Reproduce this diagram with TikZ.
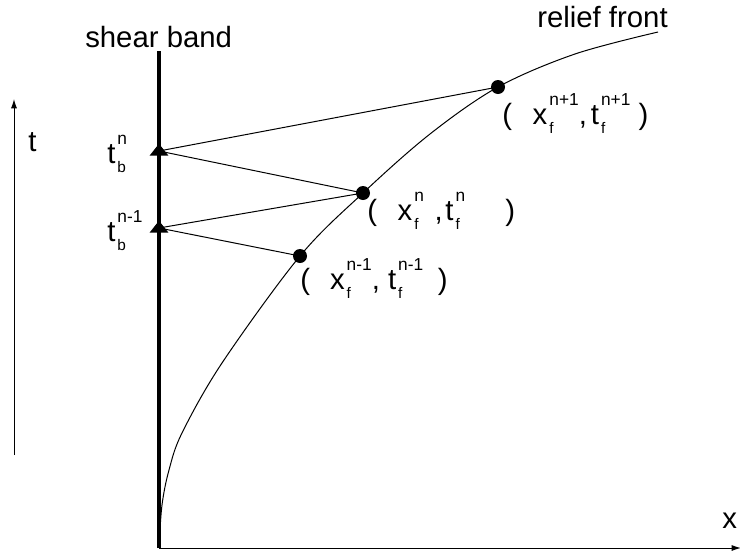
\documentclass[tikz,border=0pt]{standalone}
\usepackage{fontspec}
\setmainfont{Liberation Sans}
\usetikzlibrary{arrows.meta,shapes.geometric}
\newcommand\supfont{\fontsize{13}{13}\selectfont}
\newcommand\subfont{\fontsize{11.5}{11.5}\selectfont}
% letter with sub- and superscript stacked
\newcommand\xs[3]{#1\hspace{1.5pt}\makebox[0pt][l]{\raisebox{-7pt}{\subfont #2}}\raisebox{14pt}{\supfont #3}}
\tikzset{
  band/.style={line width=3pt},
  ray/.style={line width=0.75pt},
  front/.style={line width=0.75pt},
  axis/.style={line width=0.75pt, -{Latex[length=7pt,width=4.5pt]}},
  event/.style={
    shape = circle,
    fill,
    inner sep = 0pt,
    minimum size = 10.5pt
  },
  arrival/.style={
    shape = isosceles triangle,
    isosceles triangle apex angle = 77,
    shape border rotate = 90,
    fill,
    inner sep = 0pt,
    minimum width = 14pt
  },
  lbl/.style={
    anchor = base west,
    inner sep = 0pt,
    font = \fontsize{22}{26}\selectfont
  }
}
\begin{document}
\begin{tikzpicture}[x=0.75pt, y=-0.75pt]
\useasboundingbox (0,0) rectangle (740,554);

       % axes
       \coordinate (tlow) at (14,455);
       \coordinate (thigh) at (14,99);
       \coordinate (orig) at (159,548);
       \coordinate (xend) at (741,548);
       \coordinate (bandtop) at (159,51);
       \draw[axis] (tlow) -- (thigh);
       \draw[axis] (orig) -- (xend);
       \draw[band] (orig) -- (bandtop);

       \node[lbl] (tlab) at (28,151) {t};
       \node[lbl] (xlab) at (722,528) {x};
       \node[lbl] (bandlab) at (85,47) {shear band};
       \node[lbl] (frontlab) at (537,27) {relief front};

       % relief front
       \draw[front] plot[smooth, tension=0.55] coordinates {(159,547) (162,505) (169,470)
         (182,433) (222,363) (300,256) (363,193) (430,134) (498,87) (575,54) (658,32)};

       \node[event] (dl) at (300,256) {};
       \node[event] (dm) at (363,193) {};
       \node[event] (dt) at (498,87) {};

       \node[arrival] (tb1) at (159,151) {};
       \node[arrival] (tb2) at (159,228) {};

       \draw[ray] (tb1.center) -- (dt.center);
       \draw[ray] (tb1.center) -- (dm.center);
       \draw[ray] (tb2.center) -- (dm.center);
       \draw[ray] (tb2.center) -- (dl.center);

       \node[lbl] (tbn) at (107,163) {\xs{t}{b}{n}};
       \node[lbl] (tbm) at (107,241) {\xs{t}{b}{n-1}};

       \node[lbl] (pt) at (502,124) {(\hspace{15.5pt}\xs{x}{f}{n+1},\hspace{3pt}\xs{t}{f}{n+1} )};
       \node[lbl] (pm) at (367,220) {(\hspace{15.5pt}\xs{x}{f}{n}\hspace{8pt},\hspace{2pt}\xs{t}{f}{n}\hspace{30pt})};
       \node[lbl] (pl) at (300,289) {(\hspace{15pt}\xs{x}{f}{n-1}, \xs{t}{f}{n-1}\hspace{11pt})};

\end{tikzpicture}
\end{document}
